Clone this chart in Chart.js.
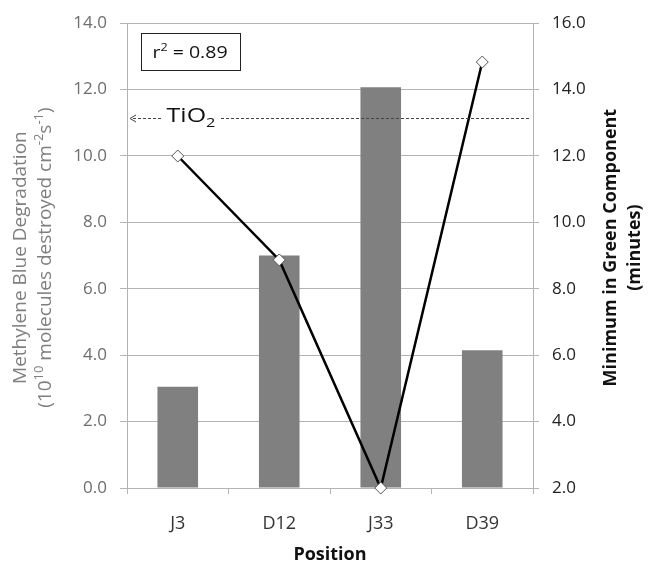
<!DOCTYPE html>
<html>
<head>
<meta charset="utf-8">
<script src="https://cdn.jsdelivr.net/npm/chart.js@4.4.0/dist/chart.umd.min.js"></script>
<style>
  html, body { margin: 0; padding: 0; background: #fff; }
</style>
</head>
<body>
<canvas id="chart" width="651" height="568"></canvas>
<script>
// data
const positions = ['J3', 'D12', 'J33', 'D39'];
const degradation = [3.05, 7.0, 12.07, 4.15];      // left axis, bars
const greenMinimum = [12.0, 8.87, 2.0, 14.83];     // right axis, line
const leftRange = [0, 14];
const rightRange = [2, 16];
const tickStep = 2;
const tio2Level = 11.14;                           // left axis value of the dashed reference
const rSquared = '0.89';

const FONT = "'Open Sans', 'Liberation Sans', sans-serif";
const GRID = '#b4b4b4';

// draws text made of segments, some of them superscript / subscript, centred on (cx, cy)
function drawRich(ctx, segs, cx, cy, rot, size, weight, color, stretch = 1) {
  ctx.save();
  ctx.translate(cx, cy);
  ctx.rotate(rot);
  ctx.scale(stretch, 1);
  ctx.fillStyle = color;
  ctx.textBaseline = 'middle';
  ctx.textAlign = 'left';
  const fontFor = s => `${weight} ${s[1] ? Math.round(size * 0.66) : size}px ${FONT}`;
  let total = 0;
  segs.forEach(s => { ctx.font = fontFor(s); total += ctx.measureText(s[0]).width; });
  let x = -total / 2;
  segs.forEach(s => {
    ctx.font = fontFor(s);
    let dy = 0;
    if (s[1] === 'sup') dy = -size * 0.33;
    if (s[1] === 'sub') dy = size * 0.34;
    ctx.fillText(s[0], x, dy);
    x += ctx.measureText(s[0]).width;
  });
  ctx.restore();
}

const overlay = {
  id: 'overlay',
  afterDraw(chart) {
    const { ctx, chartArea, scales } = chart;
    const midY = (chartArea.top + chartArea.bottom) / 2;

    // axis titles (both read bottom to top)
    drawRich(ctx, [['Methylene Blue Degradation']], 21, midY + 2, -Math.PI / 2, 19, 'normal', '#7f7f7f');
    drawRich(ctx, [['(10'], ['10', 'sup'], [' molecules destroyed cm'], ['-2', 'sup'], ['s'], ['-1', 'sup'], [')']],
      46, midY + 2, -Math.PI / 2, 19, 'normal', '#7f7f7f');
    drawRich(ctx, [['Minimum in Green Component']], 611, midY - 8, -Math.PI / 2, 18, 'bold', '#111');
    drawRich(ctx, [['(minutes)']], 635, midY - 8, -Math.PI / 2, 18, 'bold', '#111');

    // r² box
    ctx.save();
    ctx.strokeStyle = '#222';
    ctx.lineWidth = 1;
    ctx.fillStyle = '#fff';
    ctx.fillRect(141.5, 33.5, 99, 37);
    ctx.strokeRect(141.5, 33.5, 99, 37);
    ctx.restore();
    drawRich(ctx, [['r'], ['2', 'sup'], [' = ' + rSquared]], 190, 53, 0, 17, 'normal', '#111', 1.15);

    // TiO2 reference level
    const y = Math.round(scales.y.getPixelForValue(tio2Level)) + 0.5;
    const x0 = chartArea.left + 3;
    ctx.save();
    ctx.strokeStyle = '#444';
    ctx.lineWidth = 1;
    ctx.setLineDash([3, 2]);
    ctx.beginPath();
    ctx.moveTo(x0 + 3, y); ctx.lineTo(161, y);
    ctx.moveTo(221, y); ctx.lineTo(chartArea.right - 4, y);
    ctx.stroke();
    ctx.setLineDash([]);
    ctx.beginPath();
    ctx.moveTo(x0 + 6, y - 3.5); ctx.lineTo(x0, y); ctx.lineTo(x0 + 6, y + 3.5);
    ctx.stroke();
    ctx.restore();
    drawRich(ctx, [['TiO'], ['2', 'sub']], 191, y - 2, 0, 20, 'normal', '#111', 1.25);
  }
};

new Chart(document.getElementById('chart'), {
  type: 'bar',
  data: {
    labels: positions,
    datasets: [
      {
        type: 'line',
        data: greenMinimum,
        yAxisID: 'y2',
        borderColor: '#000',
        borderWidth: 2.5,
        pointStyle: 'rectRot',
        pointRadius: 6,
        pointBackgroundColor: '#fff',
        pointBorderColor: '#555',
        pointBorderWidth: 1,
        tension: 0,
        clip: false,
        order: 1
      },
      {
        data: degradation,
        yAxisID: 'y',
        backgroundColor: '#808080',
        barPercentage: 0.4,
        categoryPercentage: 1,
        order: 2
      }
    ]
  },
  options: {
    responsive: false,
    devicePixelRatio: 1,
    animation: false,
    layout: { padding: { top: 22, left: 0, right: 0, bottom: 0 } },
    plugins: { legend: { display: false }, tooltip: { enabled: false } },
    scales: {
      x: {
        offset: true,
        grid: { offset: true, drawOnChartArea: false, drawTicks: true, tickLength: 6, color: GRID },
        border: { display: false },
        ticks: { padding: 19, color: '#333', font: { family: FONT, size: 18 } },
        title: {
          display: true, text: 'Position', color: '#111',
          font: { family: FONT, size: 18, weight: 'bold' }, padding: { top: 0, bottom: 2 }
        },
        afterFit: s => { s.height = 80; }
      },
      y: {
        position: 'left',
        min: leftRange[0], max: leftRange[1],
        ticks: {
          stepSize: tickStep, padding: 13, color: '#6e6e6e',
          font: { family: FONT, size: 17 }, callback: v => v.toFixed(1)
        },
        grid: { color: GRID, tickLength: 7 },
        border: { color: GRID },
        afterFit: s => { s.width = 127; }
      },
      y2: {
        position: 'right',
        min: rightRange[0], max: rightRange[1],
        ticks: {
          stepSize: tickStep, padding: 13, color: '#222',
          font: { family: FONT, size: 17 }, callback: v => v.toFixed(1)
        },
        grid: { drawOnChartArea: false, color: GRID, tickLength: 6 },
        border: { color: GRID },
        afterFit: s => { s.width = 118; }
      }
    }
  },
  plugins: [overlay]
});
</script>
</body>
</html>
